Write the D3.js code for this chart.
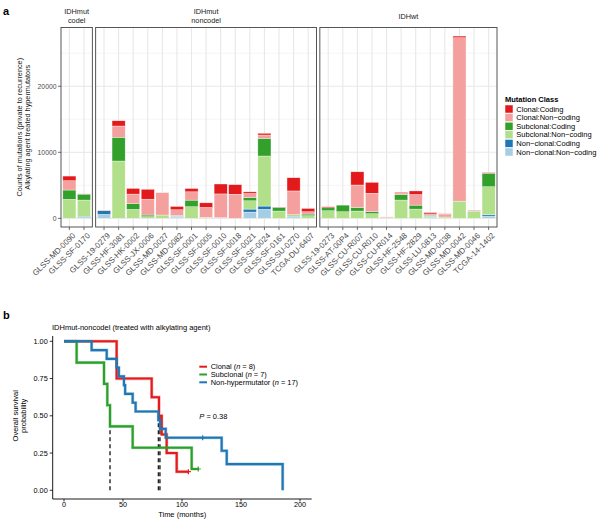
<!DOCTYPE html>
<html><head><meta charset="utf-8">
<script src="https://cdn.jsdelivr.net/npm/d3@7"></script>
<style>
body{margin:0;background:#fff;}
svg{font-family:"Liberation Sans",Arial,Helvetica,sans-serif;}
</style></head>
<body><svg id="chart" width="600" height="522"></svg>
<script>
// ---------- DATA: panel a ----------
const facetNames = ["IDHmut\ncodel", "IDHmut\nnoncodel", "IDHwt"];
const samplesCodel = ["GLSS-MD-0090", "GLSS-SF-0170"];
const samplesNoncodel = ["GLSS-19-0279", "GLSS-HF-3081", "GLSS-HK-0002", "GLSS-JX-0006", "GLSS-MD-0027",
  "GLSS-MD-0082", "GLSS-SF-0001", "GLSS-SF-0005", "GLSS-SF-0010", "GLSS-SF-0018", "GLSS-SF-0021",
  "GLSS-SF-0024", "GLSS-SF-0161", "GLSS-SU-0270", "TCGA-DU-6407"];
const samplesWt = ["GLSS-19-0273", "GLSS-AT-00P4", "GLSS-CU-R007", "GLSS-CU-R010", "GLSS-CU-R014",
  "GLSS-HF-2548", "GLSS-HF-2829", "GLSS-LU-0813", "GLSS-MD-0038", "GLSS-MD-0042", "GLSS-MD-0046",
  "TCGA-14-1402"];
// stacking order bottom -> top
const mutationClasses = ["Non-clonal:Non-coding", "Non-clonal:Coding", "Subclonal:Non-coding",
  "Subclonal:Coding", "Clonal:Non-coding", "Clonal:Coding"];
const legendOrder = ["Clonal:Coding", "Clonal:Non-coding", "Subclonal:Coding", "Subclonal:Non-coding",
  "Non-clonal:Coding", "Non-clonal:Non-coding"];
// values per class, samples in order codel, noncodel, wt
const nonclonalNoncoding = [0,150, 600,0,0,0,0,200,0,0,100,0,950,1360,0,150,0, 0,0,0,0,0,0,0,100,0,0,0,350];
const nonclonalCoding    = [0,150, 550,0,0,0,0,100,0,0,0,0,450,500,0,150,0, 0,0,0,0,0,0,0,70,0,0,0,200];
const subclonalNoncoding = [2880,2470, 0,8680,1360,250,500,100,1760,150,0,0,1260,7580,1100,250,400,
  1150,1000,1100,700,100,2770,1400,150,200,2600,1100,4240];
const subclonalCoding    = [1410,900, 0,3600,900,250,0,0,1000,0,0,0,500,2680,550,0,250,
  450,1000,550,300,0,850,600,150,0,0,0,2030];
const clonalNoncoding    = [1410,50, 60,1700,1410,2400,3400,900,1260,1500,3600,3650,600,500,0,3600,350,
  0,0,3400,2800,120,150,1600,200,450,24750,150,0];
const clonalCoding       = [700,0, 40,800,860,1500,0,500,500,700,1500,1450,250,260,50,2000,500,
  150,0,2000,1650,0,150,550,200,50,250,0,100];
const yTicksA = [0, 10000, 20000];

// ---------- DATA: panel b ----------
const kmGroups = ["Clonal", "Subclonal", "Non-hypermutator"];
const kmN = [8, 7, 17];
const clonalTime = [0, 44.6, 74.3, 80.5, 82.8, 87, 95.5, 105.4];
const clonalSurv = [1, 0.75, 0.625, 0.5, 0.375, 0.25, 0.125, 0.125];
const subclonalTime = [0, 10.7, 33.9, 36.7, 39, 58.2, 108.2, 113.8];
const subclonalSurv = [1, 0.857, 0.714, 0.571, 0.429, 0.286, 0.143, 0.143];
const nonhyperTime = [0, 23.4, 36.2, 44.6, 46.5, 50.8, 51.8, 58.2, 60.7, 80, 81.4, 86.2, 133.6, 137.9, 185.3];
const nonhyperSurv = [1, 0.941, 0.882, 0.824, 0.765, 0.706, 0.647, 0.588, 0.529, 0.47, 0.412, 0.353, 0.265, 0.176, 0];
const censorGroup = ["Clonal", "Subclonal", "Non-hypermutator"];
const censorTime = [105.4, 113.8, 117.5];
const censorSurv = [0.125, 0.143, 0.353];
const medianTimes = [39, 80, 81.3];
const xTicksB = [0, 50, 100, 150, 200];
const yTicksB = [0, 0.25, 0.5, 0.75, 1];
const pValue = "0.38";

// ---------- STYLE ----------
const classColor = d3.scaleOrdinal().domain(legendOrder)
  .range(["#E31A1C", "#F4A09F", "#33A02C", "#B2DF8A", "#1F78B4", "#A6CEE3"]);
const kmColor = d3.scaleOrdinal().domain(kmGroups).range(["#E41A1C", "#2CA02C", "#1F78B4"]);

const svg = d3.select("#chart");
const txt = "#4d4d4d";

// ================= PANEL A =================
const facets = [samplesCodel, samplesNoncodel, samplesWt];
const allSamples = [].concat(...facets);
const series = [nonclonalNoncoding, nonclonalCoding, subclonalNoncoding, subclonalCoding, clonalNoncoding, clonalCoding];
const rows = allSamples.map((s, i) => {
  const r = {sample: s};
  mutationClasses.forEach((c, k) => r[c] = series[k][i]);
  return r;
});
const stacked = d3.stack().keys(mutationClasses)(rows);

const pTop = 27.5, pBot = 227, pLeft = 61, pRight = 497, gap = 3.3;
const y = d3.scaleLinear().domain([-1310, 28900]).range([pBot, pTop]);
const unit = (pRight - pLeft - 2 * gap) / d3.sum(facets, f => f.length + 0.15);
let cur = pLeft;
const facetX = facets.map(f => {
  const w = (f.length + 0.15) * unit;
  const sc = d3.scaleBand().domain(f).range([cur, cur + w]).paddingInner(0.1).paddingOuter(0.125);
  const out = {x0: cur, x1: cur + w, scale: sc};
  cur += w + gap;
  return out;
});
const xOf = s => { for (const f of facetX) if (f.scale.domain().includes(s)) return f.scale; };

const ga = svg.append("g");
facetX.forEach((f, fi) => {
  const g = ga.append("g");
  const minor = [5000, 15000, 25000];
  g.selectAll(".mn").data(minor).join("line")
    .attr("x1", f.x0).attr("x2", f.x1).attr("y1", d => y(d)).attr("y2", d => y(d))
    .attr("stroke", "#f0f0f0").attr("stroke-width", 0.6);
  g.selectAll(".mj").data(yTicksA).join("line")
    .attr("x1", f.x0).attr("x2", f.x1).attr("y1", d => y(d)).attr("y2", d => y(d))
    .attr("stroke", "#e8e8e8").attr("stroke-width", 1.1);
  g.selectAll(".vg").data(f.scale.domain()).join("line")
    .attr("x1", d => f.scale(d) + f.scale.bandwidth() / 2).attr("x2", d => f.scale(d) + f.scale.bandwidth() / 2)
    .attr("y1", pTop).attr("y2", pBot).attr("stroke", "#e8e8e8").attr("stroke-width", 1.1);
  const lines = facetNames[fi].split("\n");
  const st = g.append("text").attr("x", (f.x0 + f.x1) / 2)
    .attr("y", lines.length === 2 ? 14 : 18.5).attr("text-anchor", "middle")
    .attr("font-size", 7.3).attr("fill", "#1a1a1a");
  lines.forEach((l, i) => st.append("tspan").attr("x", (f.x0 + f.x1) / 2).attr("dy", i === 0 ? 0 : 8.5).text(l));
  f.scale.domain().forEach(s => {
    const cx = f.scale(s) + f.scale.bandwidth() / 2;
    g.append("line").attr("x1", cx).attr("x2", cx).attr("y1", pBot).attr("y2", pBot + 3)
      .attr("stroke", "#333").attr("stroke-width", 0.7);
    g.append("text").attr("transform", `translate(${cx + 2.5},${pBot + 5}) rotate(-45)`)
      .attr("text-anchor", "end").attr("dy", "0.72em").attr("font-size", 8).attr("fill", txt).text(s);
  });
});

// bars
ga.append("g").selectAll("g").data(stacked).join("g")
  .attr("fill", d => classColor(d.key))
  .selectAll("rect").data(d => d.filter(p => p[1] - p[0] > 0)).join("rect")
  .attr("x", d => xOf(d.data.sample)(d.data.sample))
  .attr("width", d => xOf(d.data.sample).bandwidth())
  .attr("y", d => y(d[1])).attr("height", d => y(d[0]) - y(d[1]))
  .attr("stroke", "#fff").attr("stroke-width", 0.5).attr("stroke-opacity", 0.7);

facetX.forEach(f => {
  ga.append("rect").attr("x", f.x0).attr("y", pTop).attr("width", f.x1 - f.x0).attr("height", pBot - pTop)
    .attr("fill", "none").attr("stroke", "#444").attr("stroke-width", 0.9);
});
yTicksA.forEach(t => {
  ga.append("line").attr("x1", pLeft - 3).attr("x2", pLeft).attr("y1", y(t)).attr("y2", y(t))
    .attr("stroke", "#333").attr("stroke-width", 0.7);
  ga.append("text").attr("x", pLeft - 4.5).attr("y", y(t)).attr("dy", "0.35em")
    .attr("text-anchor", "end").attr("font-size", 6.8).attr("fill", txt).text(t);
});
const yt = ga.append("text").attr("transform", `translate(21.5,${(pTop + pBot) / 2}) rotate(-90)`)
  .attr("text-anchor", "middle").attr("font-size", 7.3).attr("fill", "#1a1a1a");
yt.append("tspan").attr("x", 0).attr("dy", 0).text("Counts of mutations (private to recurrence)");
yt.append("tspan").attr("x", 0).attr("dy", 8.6).text("Alkylating agent treated hypermutators");

// legend
const lg = ga.append("g").attr("transform", "translate(505,99)");
lg.append("text").attr("x", 0).attr("y", 0).attr("dy", "0.35em").attr("font-size", 7.5)
  .attr("font-weight", "bold").attr("fill", "#000").text("Mutation Class");
legendOrder.forEach((c, i) => {
  lg.append("rect").attr("x", 0).attr("y", 6 + i * 8.6).attr("width", 8).attr("height", 8)
    .attr("fill", classColor(c)).attr("stroke", "#fff").attr("stroke-width", 0.5);
  lg.append("text").attr("x", 11.3).attr("y", 10 + i * 8.6).attr("dy", "0.35em")
    .attr("font-size", 7.5).attr("fill", "#000").text(c.replace(/-/g, "\u2212"));
});

svg.append("text").attr("x", 3).attr("y", 15).attr("font-size", 11).attr("font-weight", "bold").text("a");
svg.append("text").attr("x", 3).attr("y", 319).attr("font-size", 11).attr("font-weight", "bold").text("b");

// ================= PANEL B =================
const bx = d3.scaleLinear().domain([0, 200]).range([64, 300]);
const by = d3.scaleLinear().domain([0, 1]).range([490.3, 341.3]);
const axL = 52.7, axB = 499, axR = 311.7;
const gb = svg.append("g");

gb.append("text").attr("x", 52).attr("y", 327).attr("dy", "0.35em").attr("font-size", 7.5)
  .attr("fill", "#000").text("IDHmut-noncodel (treated with alkylating agent)");

gb.append("line").attr("x1", axL).attr("x2", axL).attr("y1", 336).attr("y2", axB).attr("stroke", "#000").attr("stroke-width", 0.9);
gb.append("line").attr("x1", axL).attr("x2", axR).attr("y1", axB).attr("y2", axB).attr("stroke", "#000").attr("stroke-width", 0.9);
yTicksB.forEach(t => {
  gb.append("line").attr("x1", axL - 3).attr("x2", axL).attr("y1", by(t)).attr("y2", by(t)).attr("stroke", "#000").attr("stroke-width", 0.8);
  gb.append("text").attr("x", axL - 5).attr("y", by(t)).attr("dy", "0.35em").attr("text-anchor", "end")
    .attr("font-size", 7.3).attr("fill", "#000").text(d3.format(".2f")(t));
});
xTicksB.forEach(t => {
  gb.append("line").attr("x1", bx(t)).attr("x2", bx(t)).attr("y1", axB).attr("y2", axB + 2.5).attr("stroke", "#000").attr("stroke-width", 0.8);
  gb.append("text").attr("x", bx(t)).attr("y", 506.5).attr("text-anchor", "middle")
    .attr("font-size", 7.2).attr("fill", "#000").text(t);
});
gb.append("text").attr("x", (axL + axR) / 2).attr("y", 516.5).attr("text-anchor", "middle")
  .attr("font-size", 7.5).attr("fill", "#000").text("Time (months)");
const ybt = gb.append("text").attr("transform", `translate(17.5,${by(0.5)}) rotate(-90)`)
  .attr("text-anchor", "middle").attr("font-size", 7.5).attr("fill", "#000");
ybt.append("tspan").attr("x", 0).attr("dy", 0).text("Overall survival");
ybt.append("tspan").attr("x", 0).attr("dy", 8.6).text("probability");

medianTimes.forEach(t => {
  gb.append("line").attr("x1", bx(t)).attr("x2", bx(t)).attr("y1", by(0)).attr("y2", by(0.5))
    .attr("stroke", "#222").attr("stroke-width", 1.4).attr("stroke-dasharray", "4,3");
});

const kmData = [[clonalTime, clonalSurv], [subclonalTime, subclonalSurv], [nonhyperTime, nonhyperSurv]];
const line = d3.line().x(d => bx(d[0])).y(d => by(d[1])).curve(d3.curveStepAfter);
kmGroups.forEach((g, i) => {
  const pts = kmData[i][0].map((t, j) => [t, kmData[i][1][j]]);
  gb.append("path").attr("d", line(pts)).attr("fill", "none").attr("stroke", kmColor(g))
    .attr("stroke-width", 3.2).attr("stroke-opacity", 0.35);
  gb.append("path").attr("d", line(pts)).attr("fill", "none").attr("stroke", kmColor(g))
    .attr("stroke-width", 2.1);
});
censorGroup.forEach((g, i) => {
  const cx = bx(censorTime[i]), cy = by(censorSurv[i]);
  gb.append("path").attr("d", `M${cx - 2.5},${cy}H${cx + 2.5}M${cx},${cy - 2.5}V${cy + 2.5}`)
    .attr("stroke", kmColor(g)).attr("stroke-width", 1.2);
});

kmGroups.forEach((g, i) => {
  const yy = 366.7 + i * 7.8;
  gb.append("line").attr("x1", 199.3).attr("x2", 207).attr("y1", yy).attr("y2", yy)
    .attr("stroke", kmColor(g)).attr("stroke-width", 2);
  const t = gb.append("text").attr("x", 210.7).attr("y", yy).attr("dy", "0.35em").attr("font-size", 7.4).attr("fill", "#000");
  t.append("tspan").text(`${g} (`);
  t.append("tspan").attr("font-style", "italic").text("n");
  t.append("tspan").text(` = ${kmN[i]})`);
});
const pt = gb.append("text").attr("x", 199.3).attr("y", 416.7).attr("dy", "0.35em").attr("font-size", 7.5).attr("fill", "#000");
pt.append("tspan").attr("font-style", "italic").text("P");
pt.append("tspan").text(` = ${pValue}`);
</script></body></html>
